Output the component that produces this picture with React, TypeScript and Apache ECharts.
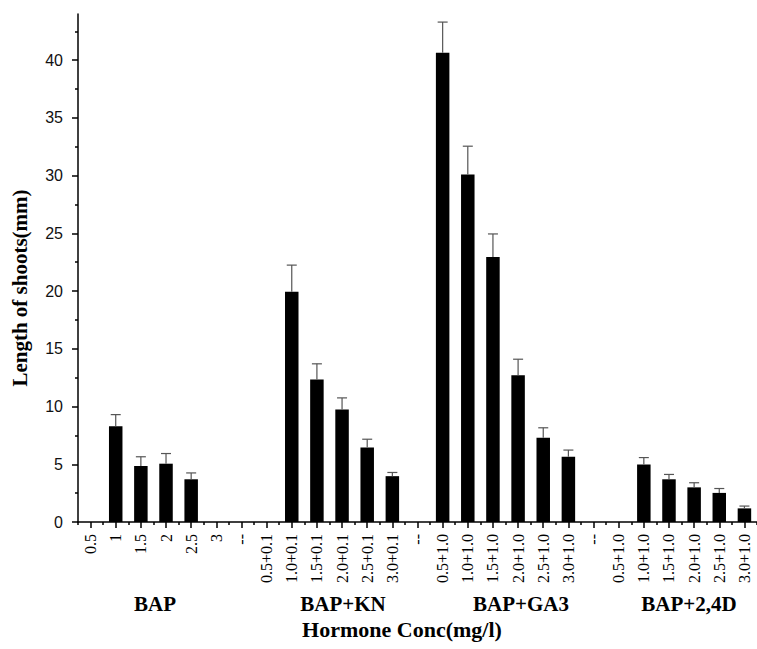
import { useEffect, useRef } from 'react';
import * as echarts from 'echarts';

const categories = [
  '0.5', '1', '1.5', '2', '2.5', '3', '--',
  '0.5+0.1', '1.0+0.1', '1.5+0.1', '2.0+0.1', '2.5+0.1', '3.0+0.1', '--',
  '0.5+1.0', '1.0+1.0', '1.5+1.0', '2.0+1.0', '2.5+1.0', '3.0+1.0', '--',
  '0.5+1.0', '1.0+1.0', '1.5+1.0', '2.0+1.0', '2.5+1.0', '3.0+1.0',
];

const lengths = [
  0, 8.3, 4.85, 5.05, 3.7, 0, 0,
  0, 19.95, 12.35, 9.75, 6.45, 3.97, 0,
  40.65, 30.1, 22.95, 12.7, 7.3, 5.65, 0,
  0, 4.98, 3.7, 3.0, 2.52, 1.18,
];

const errors = [
  0, 1.0, 0.8, 0.88, 0.55, 0, 0,
  0, 2.3, 1.35, 1.0, 0.72, 0.32, 0,
  2.65, 2.45, 2.0, 1.4, 0.86, 0.58, 0,
  0, 0.6, 0.42, 0.4, 0.38, 0.2,
];

const yTicks = [0, 5, 10, 15, 20, 25, 30, 35, 40];
const yMinorTicks = [2.5, 7.5, 12.5, 17.5, 22.5, 27.5, 32.5, 37.5, 42.5];

const groupLabels = ['BAP', 'BAP+KN', 'BAP+GA3', 'BAP+2,4D'];
const groupLabelX = [155, 343, 521, 689];

const yAxisTitle = 'Length of shoots(mm)';
const xAxisTitle = 'Hormone Conc(mg/l)';

export default function App() {
  const ref = useRef<HTMLDivElement>(null);

  useEffect(() => {
    document.body.style.margin = '0';
    const chart = echarts.init(ref.current as HTMLDivElement, null, { renderer: 'svg' });
    const serif = '"Liberation Serif", "Times New Roman", serif';
    const sans = '"Liberation Sans", Arial, sans-serif';
    const black = '#000';

    const errData = lengths
      .map((v, i) => [i, v, errors[i]])
      .filter((d) => d[2] > 0);

    chart.setOption({
      animation: false,
      backgroundColor: '#fff',
      grid: { left: 78, top: 14, width: 684, height: 508, containLabel: false },
      xAxis: [
        {
          type: 'category',
          data: categories,
          boundaryGap: true,
          axisLine: { show: true, lineStyle: { color: black, width: 1.5 } },
          axisTick: { show: true, alignWithLabel: false, interval: 0, length: 3, lineStyle: { color: black, width: 1.5 } },
          axisLabel: {
            interval: 0,
            rotate: 90,
            margin: 12,
            color: black,
            fontFamily: serif,
            fontSize: 16,
          },
          splitLine: { show: false },
        },
        {
          type: 'category',
          data: categories,
          position: 'bottom',
          boundaryGap: true,
          axisLine: { show: false },
          axisTick: { show: true, alignWithLabel: true, interval: 0, length: 6, lineStyle: { color: black, width: 1.5 } },
          axisLabel: { show: false },
          splitLine: { show: false },
        },
      ],
      yAxis: [
        {
          type: 'value',
          min: 0,
          max: 44,
          interval: 5,
          axisLine: { show: true, lineStyle: { color: black, width: 1.5 } },
          axisTick: { show: true, length: 6, customValues: yTicks, lineStyle: { color: black, width: 1.5 } },
          axisLabel: { customValues: yTicks, margin: 15, color: '#111', fontFamily: sans, fontSize: 16 },
          splitLine: { show: false },
        },
        {
          type: 'value',
          min: 0,
          max: 44,
          position: 'left',
          axisLine: { show: false },
          axisTick: { show: true, length: 3, customValues: yMinorTicks, lineStyle: { color: black, width: 1.5 } },
          axisLabel: { show: false },
          splitLine: { show: false },
        },
      ],
      series: [
        {
          type: 'bar',
          data: lengths,
          barWidth: 13.5,
          itemStyle: { color: black },
          xAxisIndex: 0,
          yAxisIndex: 0,
        },
        {
          type: 'custom',
          xAxisIndex: 0,
          yAxisIndex: 0,
          data: errData,
          encode: { x: 0, y: 1 },
          z: 3,
          renderItem: (_params: any, api: any) => {
            const i = api.value(0);
            const v = api.value(1);
            const e = api.value(2);
            const base = api.coord([i, v]);
            const top = api.coord([i, v + e]);
            const hw = 5;
            const style = { stroke: '#555', lineWidth: 1.2 };
            return {
              type: 'group',
              children: [
                { type: 'line', shape: { x1: base[0], y1: base[1], x2: top[0], y2: top[1] }, style },
                { type: 'line', shape: { x1: top[0] - hw, y1: top[1], x2: top[0] + hw, y2: top[1] }, style },
              ],
            };
          },
        },
      ],
      graphic: [
        {
          type: 'text',
          x: 20,
          y: 288,
          rotation: Math.PI / 2,
          style: {
            text: yAxisTitle,
            fill: black,
            font: `bold 21px ${serif}`,
            textAlign: 'center',
            textVerticalAlign: 'middle',
          },
        },
        ...groupLabels.map((t, k) => ({
          type: 'text',
          x: groupLabelX[k],
          y: 604,
          style: {
            text: t,
            fill: black,
            font: `bold 21px ${serif}`,
            textAlign: 'center',
            textVerticalAlign: 'middle',
          },
        })),
        {
          type: 'text',
          x: 402,
          y: 629,
          style: {
            text: xAxisTitle,
            fill: black,
            font: `bold 22px ${serif}`,
            textAlign: 'center',
            textVerticalAlign: 'middle',
          },
        },
      ],
    });

    return () => chart.dispose();
  }, []);

  return (
    <div
      ref={ref}
      style={{ position: 'absolute', left: 0, top: 0, width: 757, height: 649, background: '#fff' }}
    />
  );
}
